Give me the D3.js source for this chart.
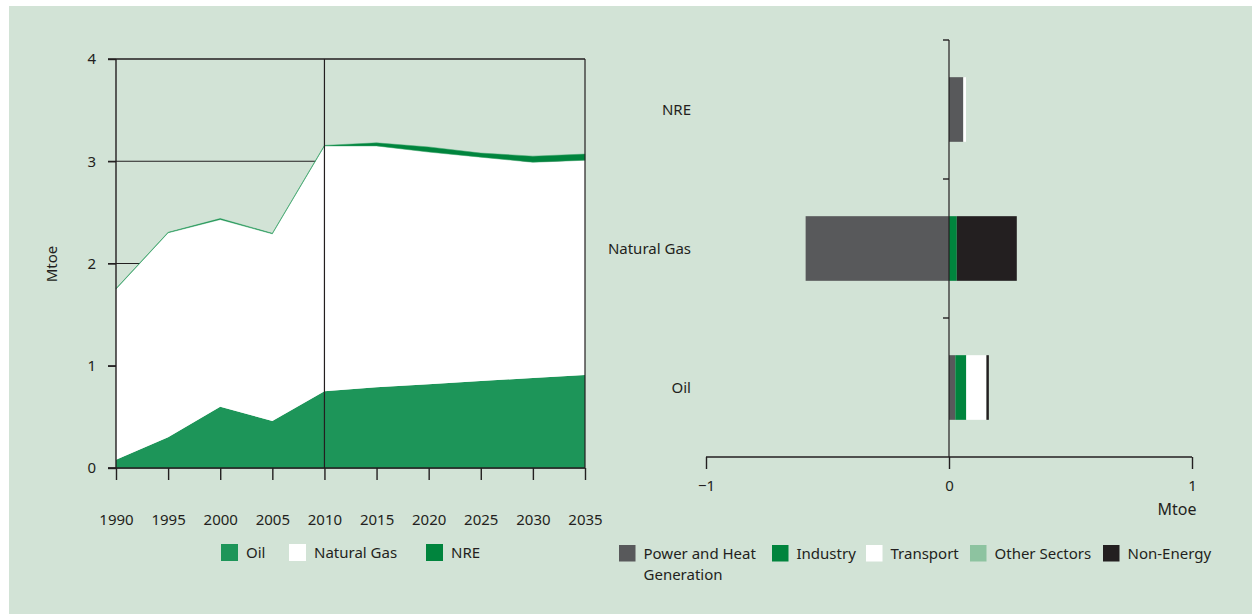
<!DOCTYPE html>
<html><head><meta charset="utf-8">
<script src="https://cdn.jsdelivr.net/npm/d3@7"></script>
<style>
html,body{margin:0;padding:0;background:#fff;}
svg text{font-family:"Noto Sans",sans-serif;fill:#231f20;}
</style></head>
<body>
<svg id="c" width="1252" height="614"></svg>
<script>
// ---- Left chart data (Mtoe) ----
const years = [1990,1995,2000,2005,2010,2015,2020,2025,2030,2035];
const oil   = [0.08,0.30,0.60,0.46,0.75,0.79,0.82,0.85,0.88,0.91];
const gas   = [1.67,2.00,1.83,1.83,2.40,2.36,2.27,2.19,2.11,2.10];
const nre   = [0.005,0.005,0.01,0.005,0.005,0.03,0.05,0.04,0.06,0.06];
const leftSeries = ["Oil","Natural Gas","NRE"];
const leftColors = ["#1d9559","#ffffff","#00843d"];
const yTicks = [0,1,2,3,4];

// ---- Right chart data (Mtoe) ----
const fuels = ["NRE","Natural Gas","Oil"];
const sectors = ["Power and Heat Generation","Industry","Transport","Other Sectors","Non-Energy"];
const sectorColors = ["#58595b","#00843d","#ffffff","#8dc3a0","#231f20"];
const powerHeat   = [0.059,-0.59,0.026];
const industry    = [0.0,0.032,0.045];
const transport   = [0.011,0.0,0.083];
const otherSect   = [0.0,0.0,0.0];
const nonEnergy   = [0.0,0.247,0.01];
const xTicksRight = [-1,0,1];

const svg = d3.select("#c");
const ink = "#231f20";
const fs = "15px";
svg.append("rect").attr("x",9).attr("y",6).attr("width",1243).attr("height",608).attr("fill","#d2e3d6");

// ===== Left chart =====
const x = d3.scaleLinear().domain([1990,2035]).range([116,585]);
const y = d3.scaleLinear().domain([0,4]).range([468,59]);
const L = svg.append("g");
L.selectAll("line.grid").data(yTicks).join("line")
  .attr("x1",108).attr("x2",585).attr("y1",d=>y(d)).attr("y2",d=>y(d))
  .attr("stroke",ink).attr("stroke-width",1.2);
const rows = years.map((yr,i)=>({year:yr,"Oil":oil[i],"Natural Gas":gas[i],"NRE":nre[i]}));
const stacked = d3.stack().keys(leftSeries)(rows);
const area = d3.area().x(d=>x(d.data.year)).y0(d=>y(d[0])).y1(d=>y(d[1]));
L.selectAll("path.a").data(stacked).join("path")
  .attr("d",area).attr("fill",(d,i)=>leftColors[i])
  .attr("stroke",(d,i)=>i===2?"#3aa56a":"none").attr("stroke-width",0.5);
L.append("line").attr("x1",108).attr("x2",585).attr("y1",y(4)).attr("y2",y(4)).attr("stroke",ink).attr("stroke-width",1.2);
L.append("line").attr("x1",x(2035)).attr("x2",x(2035)).attr("y1",y(4)).attr("y2",y(0)).attr("stroke",ink).attr("stroke-width",1.2);
L.append("line").attr("x1",x(2010)).attr("x2",x(2010)).attr("y1",y(4)).attr("y2",y(0)).attr("stroke",ink).attr("stroke-width",1.2);
const yAx = L.append("g").attr("transform","translate(116,0)")
  .call(d3.axisLeft(y).tickValues(yTicks).tickSize(8).tickPadding(12).tickFormat(d3.format("d")));
const xAx = L.append("g").attr("transform","translate(0,468)")
  .call(d3.axisBottom(x).tickValues(years).tickSize(12).tickPadding(34).tickFormat(d3.format("d")));
[yAx,xAx].forEach(g=>{
  g.select(".domain").attr("stroke",ink).attr("stroke-width",1.4);
  g.selectAll(".tick line").attr("stroke",ink).attr("stroke-width",1.4);
  g.selectAll(".tick text").style("font-family","Noto Sans").style("font-size",fs).attr("fill",ink);
});
yAx.select(".domain").attr("d","M0,"+y(4)+"V"+y(0));
xAx.select(".domain").attr("d","M108,0H585");
L.append("text").attr("transform","translate(57,264) rotate(-90)").attr("text-anchor","middle")
  .style("font-size",fs).text("Mtoe");

const lgL = [221,289,426];
leftSeries.forEach((s,i)=>{
  L.append("rect").attr("x",lgL[i]).attr("y",544).attr("width",17).attr("height",17).attr("fill",leftColors[i]);
  L.append("text").attr("x",lgL[i]+25).attr("y",558).style("font-size",fs).text(s);
});

// ===== Right chart =====
const xr = d3.scaleLinear().domain([-1,1]).range([706,1192]);
const yr = d3.scaleBand().domain(fuels).range([40,457]).paddingInner(0.535).paddingOuter(0.2675);
const R = svg.append("g");
const sectorVals = [powerHeat,industry,transport,otherSect,nonEnergy];
fuels.forEach((f,fi)=>{
  let pos=0, neg=0;
  sectors.forEach((s,si)=>{
    const v = sectorVals[si][fi];
    if(v===0) return;
    let a,b;
    if(v>0){a=pos;b=pos+v;pos=b;} else {a=neg+v;b=neg;neg=a;}
    R.append("rect").attr("x",xr(a)).attr("width",xr(b)-xr(a))
      .attr("y",yr(f)).attr("height",yr.bandwidth()).attr("fill",sectorColors[si]);
  });
});
const bounds = [40,179,318,457];
R.append("line").attr("x1",xr(0)).attr("x2",xr(0)).attr("y1",40).attr("y2",457).attr("stroke",ink).attr("stroke-width",1.2);
R.selectAll("line.ct").data(bounds.slice(0,3)).join("line")
  .attr("x1",xr(0)-6).attr("x2",xr(0)).attr("y1",d=>d).attr("y2",d=>d).attr("stroke",ink).attr("stroke-width",1.4);
R.selectAll("text.cat").data(fuels).join("text")
  .attr("x",691).attr("y",f=>yr(f)+yr.bandwidth()/2).attr("dy","0.35em").attr("text-anchor","end")
  .style("font-size",fs).text(f=>f);
const xrAx = R.append("g").attr("transform","translate(0,457)")
  .call(d3.axisBottom(xr).tickValues(xTicksRight).tickSize(12).tickPadding(11).tickFormat(d=>d<0?"\u2212"+Math.abs(d):d));
xrAx.select(".domain").attr("stroke",ink).attr("stroke-width",1.4).attr("d","M706,0H1192");
xrAx.selectAll(".tick line").attr("stroke",ink).attr("stroke-width",1.4);
xrAx.selectAll(".tick text").style("font-family","Noto Sans").style("font-size",fs).attr("fill",ink);
R.append("text").attr("x",1177).attr("y",515).attr("text-anchor","middle").style("font-size","16px").text("Mtoe");

const lgR = [619,772,866,970,1103];
sectors.forEach((s,i)=>{
  R.append("rect").attr("x",lgR[i]).attr("y",545).attr("width",16.5).attr("height",16.5).attr("fill",sectorColors[i]);
  const t = R.append("text").attr("x",lgR[i]+24.5).attr("y",559).style("font-size",fs);
  if(i===0){
    t.append("tspan").attr("x",lgR[i]+24.5).text("Power and Heat");
    t.append("tspan").attr("x",lgR[i]+24.5).attr("dy",21).text("Generation");
  } else t.text(s);
});
</script>
</body></html>
